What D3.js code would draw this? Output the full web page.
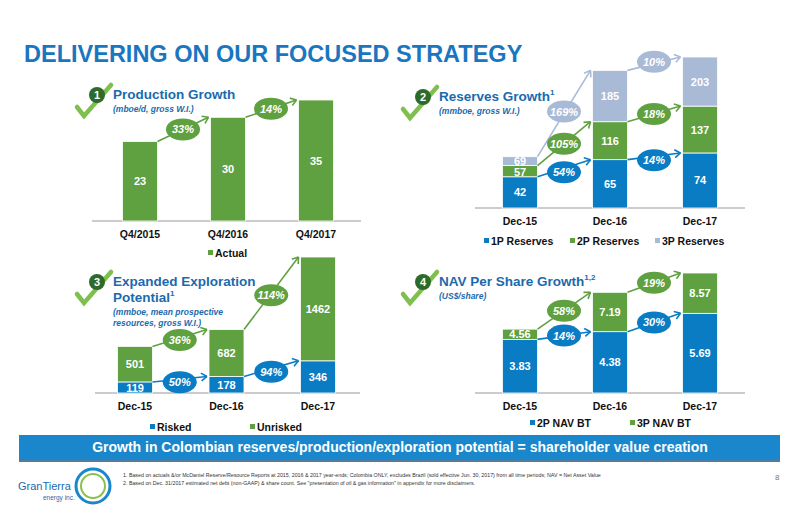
<!DOCTYPE html>
<html><head><meta charset="utf-8">
<script src="https://cdn.jsdelivr.net/npm/d3@7"></script>
<style>body{margin:0;background:#fff;font-family:"Liberation Sans",Arial,sans-serif}</style>
</head><body><svg id="c" width="800" height="518"></svg>
<script>
// values are cumulative totals as printed on the slide
var prodCats = ["Q4/2015", "Q4/2016", "Q4/2017"];
var prodActual = [23, 30, 35];
var prodGrowth = ["33%", "14%"];

var resCats = ["Dec-15", "Dec-16", "Dec-17"];
var res1P = [42, 65, 74];
var res2P = [57, 116, 137];
var res3P = [69, 185, 203];
var res1PGrowth = ["54%", "14%"];
var res2PGrowth = ["105%", "18%"];
var res3PGrowth = ["169%", "10%"];

var expCats = ["Dec-15", "Dec-16", "Dec-17"];
var expRisked = [119, 178, 346];
var expUnrisked = [501, 682, 1462];
var expRiskedGrowth = ["50%", "94%"];
var expUnriskedGrowth = ["36%", "114%"];

var navCats = ["Dec-15", "Dec-16", "Dec-17"];
var nav2P = [3.83, 4.38, 5.69];
var nav3P = [4.56, 7.19, 8.57];
var nav2PGrowth = ["14%", "30%"];
var nav3PGrowth = ["58%", "19%"];

var BLUE = "#0a7cc4", GREEN = "#5fa040", LIGHT = "#a9bad6", TITLE = "#1976c0";
var svg = d3.select("#c");

svg.append("text").attr("x", 24).attr("y", 62).attr("fill", TITLE)
  .attr("font-size", 23.5).attr("font-weight", "bold").text("DELIVERING ON OUR FOCUSED STRATEGY");

function header(cx, cy, num, lines, subs) {
  var g = svg.append("g");
  g.append("path").attr("d", "M" + (cx - 20) + "," + (cy + 12) + " L" + (cx - 13) + "," + (cy + 21) + " L" + (cx + 14) + "," + (cy - 10))
    .attr("stroke", "#7fbf4d").attr("stroke-width", 4.5).attr("fill", "none").attr("stroke-linecap", "round");
  g.append("circle").attr("cx", cx).attr("cy", cy).attr("r", 8).attr("fill", "#2e6b2a");
  g.append("text").attr("x", cx).attr("y", cy + 4).attr("text-anchor", "middle").attr("fill", "#fff")
    .attr("font-size", 11).attr("font-weight", "bold").text(num);
  lines.forEach(function (l, i) {
    var t = g.append("text").attr("x", cx + 16).attr("y", cy + 4 + i * 16).attr("fill", "#1a6aae")
      .attr("font-size", 13.5).attr("font-weight", "bold").text(l[0]);
    if (l[1]) t.append("tspan").attr("font-size", 8).attr("dy", -6).text(l[1]);
  });
  subs.forEach(function (s, i) {
    g.append("text").attr("x", cx + 16).attr("y", cy + 4 + lines.length * 16 - 3 + i * 11).attr("fill", "#1a6aae")
      .attr("font-size", 8.5).attr("font-style", "italic").attr("font-weight", "bold").text(s);
  });
}

function chart(o) {
  var x = d3.scalePoint().domain(o.cats).range(o.xr);
  var y = d3.scaleLinear().domain([0, o.max]).range([o.base, o.top]);
  var bw = 35, g = svg.append("g");
  g.append("line").attr("x1", o.ax[0]).attr("x2", o.ax[1]).attr("y1", o.base).attr("y2", o.base)
    .attr("stroke", "#999").attr("stroke-width", 1);
  o.series.forEach(function (s, si) {
    var prev = si ? o.series[si - 1].v : null;
    o.cats.forEach(function (c, i) {
      var y0 = prev ? y(prev[i]) : o.base, y1 = y(s.v[i]);
      g.append("rect").attr("x", x(c) - bw / 2).attr("y", y1).attr("width", bw).attr("height", y0 - y1)
        .attr("fill", s.color).attr("stroke", "#fff").attr("stroke-width", 0.8);
      var ty = Math.min((y0 + y1) / 2 + 4, y0 - 1);
      if (y0 - y1 < 12) ty = y0 - 1;
      g.append("text").attr("x", x(c)).attr("y", ty).attr("text-anchor", "middle").attr("fill", "#fff")
        .attr("font-size", 11).attr("font-weight", "bold").text(s.v[i]);
    });
  });
  // growth arrows + bubbles, topmost series drawn last
  o.series.slice().reverse().forEach(function (s) {
    if (!s.g) return;
    for (var i = 0; i < o.cats.length - 1; i++) {
      var x1 = x(o.cats[i]) + bw / 2, y1 = y(s.v[i]), x2 = x(o.cats[i + 1]) - bw / 2 - 2, y2 = y(s.v[i + 1]);
      g.append("line").attr("x1", x1).attr("y1", y1).attr("x2", x2).attr("y2", y2)
        .attr("stroke", s.color).attr("stroke-width", 1.6);
      var a = Math.atan2(y2 - y1, x2 - x1);
      [-0.6, 0.6].forEach(function (d) {
        g.append("line").attr("x1", x2).attr("y1", y2)
          .attr("x2", x2 - 7 * Math.cos(a + d)).attr("y2", y2 - 7 * Math.sin(a + d))
          .attr("stroke", s.color).attr("stroke-width", 1.6);
      });
      var mx = (x1 + x2) / 2, my = (y1 + y2) / 2 + (s.dy || 0);
      g.append("ellipse").attr("cx", mx).attr("cy", my).attr("rx", 17).attr("ry", 11).attr("fill", s.color);
      g.append("text").attr("x", mx).attr("y", my + 4).attr("text-anchor", "middle").attr("fill", "#fff")
        .attr("font-size", 11).attr("font-style", "italic").attr("font-weight", "bold").text(s.g[i]);
    }
  });
  o.cats.forEach(function (c) {
    g.append("text").attr("x", x(c)).attr("y", o.base + 17).attr("text-anchor", "middle")
      .attr("font-size", 10.5).attr("font-weight", "bold").attr("fill", "#111").text(c);
  });
  o.legend.forEach(function (l) {
    g.append("rect").attr("x", l.x).attr("y", o.ly - 7).attr("width", 5).attr("height", 5).attr("fill", l.color);
    g.append("text").attr("x", l.x + 7).attr("y", o.ly).attr("font-size", 10.5).attr("font-weight", "bold")
      .attr("fill", "#111").text(l.name);
  });
}

header(97, 95, "1", [["Production Growth"]], ["(mboe/d, gross W.I.)"]);
chart({ cats: prodCats, xr: [140, 316], max: 35, base: 221, top: 100, ax: [92, 361], ly: 257,
  series: [{ v: prodActual, color: GREEN, g: prodGrowth }],
  legend: [{ x: 208, name: "Actual", color: GREEN }] });

header(423, 97, "2", [["Reserves Growth", "1"]], ["(mmboe, gross W.I.)"]);
chart({ cats: resCats, xr: [520, 700], max: 203, base: 208, top: 57, ax: [475, 745], ly: 245,
  series: [{ v: res1P, color: BLUE, g: res1PGrowth, dy: 4 }, { v: res2P, color: GREEN, g: res2PGrowth },
    { v: res3P, color: LIGHT, g: res3PGrowth, dy: -2 }],
  legend: [{ x: 484, name: "1P Reserves", color: BLUE }, { x: 570, name: "2P Reserves", color: GREEN },
    { x: 655, name: "3P Reserves", color: LIGHT }] });

header(97, 282, "3", [["Expanded Exploration"], ["Potential", "1"]],
  ["(mmboe, mean prospective", "resources, gross W.I.)"]);
chart({ cats: expCats, xr: [135, 318], max: 1462, base: 393, top: 257, ax: [95, 360], ly: 431,
  series: [{ v: expRisked, color: BLUE, g: expRiskedGrowth, dy: 3 }, { v: expUnrisked, color: GREEN, g: expUnriskedGrowth, dy: 2 }],
  legend: [{ x: 150, name: "Risked", color: BLUE }, { x: 250, name: "Unrisked", color: GREEN }] });

header(423, 282, "4", [["NAV Per Share Growth", "1,2"]], ["(US$/share)"]);
chart({ cats: navCats, xr: [520, 700], max: 8.57, base: 393, top: 273, ax: [475, 745], ly: 427,
  series: [{ v: nav2P, color: BLUE, g: nav2PGrowth }, { v: nav3P, color: GREEN, g: nav3PGrowth }],
  legend: [{ x: 530, name: "2P NAV BT", color: BLUE }, { x: 630, name: "3P NAV BT", color: GREEN }] });

// banner + footer
svg.append("rect").attr("x", 19).attr("y", 435).attr("width", 761).attr("height", 25).attr("fill", "#1a87cc");
svg.append("line").attr("x1", 19).attr("x2", 780).attr("y1", 461).attr("y2", 461).attr("stroke", "#1a4f7a").attr("stroke-width", 1.5);
svg.append("text").attr("x", 400).attr("y", 452).attr("text-anchor", "middle").attr("fill", "#fff")
  .attr("font-size", 14).attr("font-weight", "bold").text("Growth in Colombian reserves/production/exploration potential = shareholder value creation");
svg.append("text").attr("x", 123).attr("y", 477).attr("font-size", 5.3).attr("fill", "#333")
  .text("1.  Based on actuals &/or McDaniel Reserve/Resource Reports at 2015, 2016 & 2017 year-ends; Colombia ONLY, excludes Brazil (sold effective Jun. 30, 2017) from all time periods; NAV = Net Asset Value");
svg.append("text").attr("x", 123).attr("y", 485).attr("font-size", 5.3).attr("fill", "#333")
  .text("2.  Based on Dec. 31/2017 estimated net debt (non-GAAP) & share count. See \"presentation of oil & gas information\" in appendix for more disclaimers.");
svg.append("text").attr("x", 775).attr("y", 480).attr("font-size", 8).attr("fill", "#777").text("8");
svg.append("circle").attr("cx", 93).attr("cy", 486).attr("r", 17).attr("fill", "none").attr("stroke", "#1a87cc").attr("stroke-width", 3);
svg.append("circle").attr("cx", 93).attr("cy", 486).attr("r", 12).attr("fill", "none").attr("stroke", "#8cc04a").attr("stroke-width", 2);
svg.append("text").attr("x", 18).attr("y", 490).attr("font-size", 11).attr("fill", "#1a6aae").text("GranTierra");
svg.append("text").attr("x", 43).attr("y", 500).attr("font-size", 6.5).attr("fill", "#1a6aae").text("energy inc.");
</script></body></html>
